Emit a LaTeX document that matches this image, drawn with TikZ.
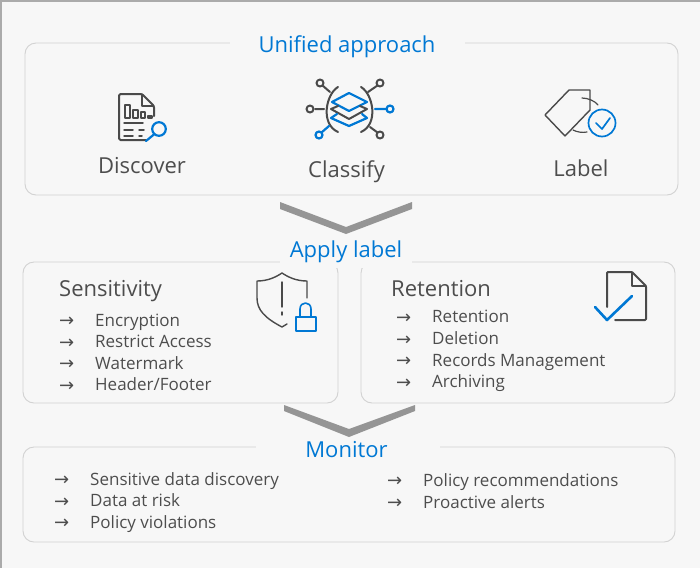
\documentclass[tikz,border=0pt]{standalone}
\usepackage{fontspec}
\setmainfont{Open Sans}
\newfontfamily\arrowfont{DejaVu Sans}
\definecolor{msblue}{HTML}{0078D4}
\definecolor{icongray}{HTML}{4A4A4A}
\definecolor{panelline}{HTML}{D2D2D2}
\definecolor{bgfill}{HTML}{F7F7F7}
\definecolor{chevgray}{HTML}{959595}
\definecolor{txtgray}{HTML}{4D4D4D}
\definecolor{edgegray}{HTML}{ABABAB}
\tikzset{
  panel/.style={draw=panelline,line width=0.9pt,rounded corners=11pt},
  gapcover/.style={fill=bgfill,draw=none},
  heading/.style={text=msblue,font=\fontsize{22}{24}\selectfont,inner sep=0pt},
  panelttl/.style={text=txtgray,font=\fontsize{22}{24}\selectfont,inner sep=0pt,anchor=west},
  iconlbl/.style={text=txtgray,font=\fontsize{22}{24}\selectfont,inner sep=0pt},
  item/.style={text=txtgray,font=\fontsize{17}{18}\selectfont,inner sep=0pt,anchor=base west},
  arr/.style={text=txtgray,font=\arrowfont\fontsize{18}{18}\selectfont,inner sep=0pt,anchor=base west},
  chev/.style={fill=chevgray,draw=none},
  igray/.style={draw=icongray,line width=2pt,line join=round,line cap=round},
  iblue/.style={draw=msblue,line width=2.2pt,line join=round,line cap=round},
}
\newcommand{\listitem}[4]{%
  \node[arr] (a#1) at (#2-1,#4+0.5) {→};
  \node[item] (t#1) at (#2+35,#4) {#3};
}
\begin{document}
\begin{tikzpicture}[x=1pt,y=-1pt]
\useasboundingbox (0,0) rectangle (700,568);
\fill[bgfill] (0,0) rectangle (700,568);
\fill[edgegray] (0,0) rectangle (700,1.5);
\fill[edgegray] (0,0) rectangle (1.5,568);
% panels
\draw[panel] (25,43) rectangle (678,195);
\fill[gapcover] (230,38) rectangle (465,48);
\draw[panel] (23,262) rectangle (338,403);
\draw[panel] (361,262) rectangle (675,403);
\fill[gapcover] (280,256) rectangle (412,268);
\draw[panel] (23,447) rectangle (675,542);
\fill[gapcover] (256,442) rectangle (440,452);
% chevrons
\fill[chev] (280,202) -- (346,227) -- (412,202) -- (412,209) -- (346,234) -- (280,209) -- cycle;
\fill[chev] (284,405) -- (349,429) -- (415,405) -- (415,411) -- (349,437) -- (284,411) -- cycle;
% headings
\node[heading] (unified) at (347,47) {Unified approach};
\node[heading] (apply) at (346,252) {Apply label};
\node[heading] (monitor) at (346.5,450) {Monitor};
% icon labels
\node[iconlbl] (discover) at (142,166) {Discover};
\node[iconlbl] (classify) at (346.5,172) {Classify};
\node[iconlbl] (label) at (581,168) {Label};
% discover icon
\draw[igray,rounded corners=1.5pt] (146,140) -- (119,140) -- (119,94) -- (142,94) -- (154,106) -- (154,116);
\draw[igray,line width=1.3pt] (142,94) -- (142,106) -- (154,106);
\draw[igray,line width=1.5pt] (125,105) rectangle (130,118);
\draw[igray,line width=1.5pt] (133,110) rectangle (138,118);
\draw[igray,line width=1.5pt] (141,112) rectangle (145,118);
\draw[igray,line width=1.5pt] (148,116) rectangle (152,118);
\draw[igray,line width=1.5pt] (124,123) -- (143,123) (124,130) -- (133,130) (139,130) -- (144,130) (124,136) -- (133,136) (139,136) -- (142,136);
\draw[iblue] (159,129) circle (6.8);
\draw[iblue] (154.5,134) -- (146,141);
% classify icon
\draw[igray] (338,87) .. controls (326,94) and (320,124) .. (338,132);
\draw[igray] (361,87) .. controls (373,94) and (379,124) .. (361,132);
\draw[igray] (330,92) -- (322.5,85.5) (315,109) -- (324,109) (368,92) -- (377.5,85.5) (370,127) -- (377.5,132.5);
\draw[igray] (320,83) circle (3.5) (310,109) circle (3.5) (380,83) circle (3.5) (380,135) circle (3.5);
\draw[iblue] (319,135) circle (3.5) (390,109) circle (3.5);
\draw[iblue] (321.5,132.5) -- (329,126) (375,109) -- (386,109);
\draw[iblue] (349,93) -- (367,102) -- (349,111) -- (332,102) -- cycle;
\draw[igray] (338,106) -- (331,109) -- (349,119) -- (367,109) -- (360,106);
\draw[iblue] (337,114) -- (331,118) -- (349,126) -- (367,118) -- (362,114);
% label icon
\draw[igray,line width=1.4pt] (569,90) -- (590,90) -- (590,110) -- (565,136) -- (545,115) -- cycle;
\draw[igray,line width=1.2pt] (582,98) .. controls (588,98) and (595,101) .. (598,105);
\draw[igray,line width=1.2pt] (573,130) .. controls (577,132) and (582,133) .. (587,132);
\draw[iblue,line width=1.7pt] (602,123) circle (13.5);
\draw[iblue,line width=1.7pt] (596,123) -- (602,129) -- (610,118);
% panel titles
\node[panelttl] (sens) at (59,291.5) {Sensitivity};
\node[panelttl] (ret) at (391,289) {Retention};
% shield icon
\draw[igray,line width=1.4pt] (287,324) -- (282,327) .. controls (265,318) and (257,310) .. (257,298) -- (257,281) .. controls (268,281) and (276,277) .. (282,273) .. controls (288,277) and (296,281) .. (307,281) -- (307,298);
\draw[igray,line width=1.4pt] (282,282) -- (282,307) (282,312) -- (282,315);
\draw[iblue,line width=1.6pt] (296,317) rectangle (316,331);
\draw[iblue,line width=1.6pt] (300,317) -- (300,309) .. controls (300,301) and (311,301) .. (311,309) -- (311,317);
% retention doc icon
\draw[igray,rounded corners=1pt] (607,307) -- (607,272) -- (632,272) -- (646,286) -- (646,320) -- (615,320);
\draw[igray,line width=1.3pt] (632,272) -- (632,286) -- (646,286);
\draw[iblue,line width=2.6pt] (595,307) -- (607,320) -- (632,296);
% lists
\listitem{s1}{60}{Encryption}{326}
\listitem{s2}{60}{Restrict Access}{347.5}
\listitem{s3}{60}{Watermark}{369}
\listitem{s4}{60}{Header/Footer}{390.5}
\listitem{r1}{397}{Retention}{322.5}
\listitem{r2}{397}{Deletion}{344.5}
\listitem{r3}{397}{Records Management}{366}
\listitem{r4}{397}{Archiving}{387.5}
\listitem{m1}{55}{Sensitive data discovery}{485}
\listitem{m2}{55}{Data at risk}{506.5}
\listitem{m3}{55}{Policy violations}{528}
\listitem{m4}{388}{Policy recommendations}{486}
\listitem{m5}{388}{Proactive alerts}{508}
\end{tikzpicture}
\end{document}
